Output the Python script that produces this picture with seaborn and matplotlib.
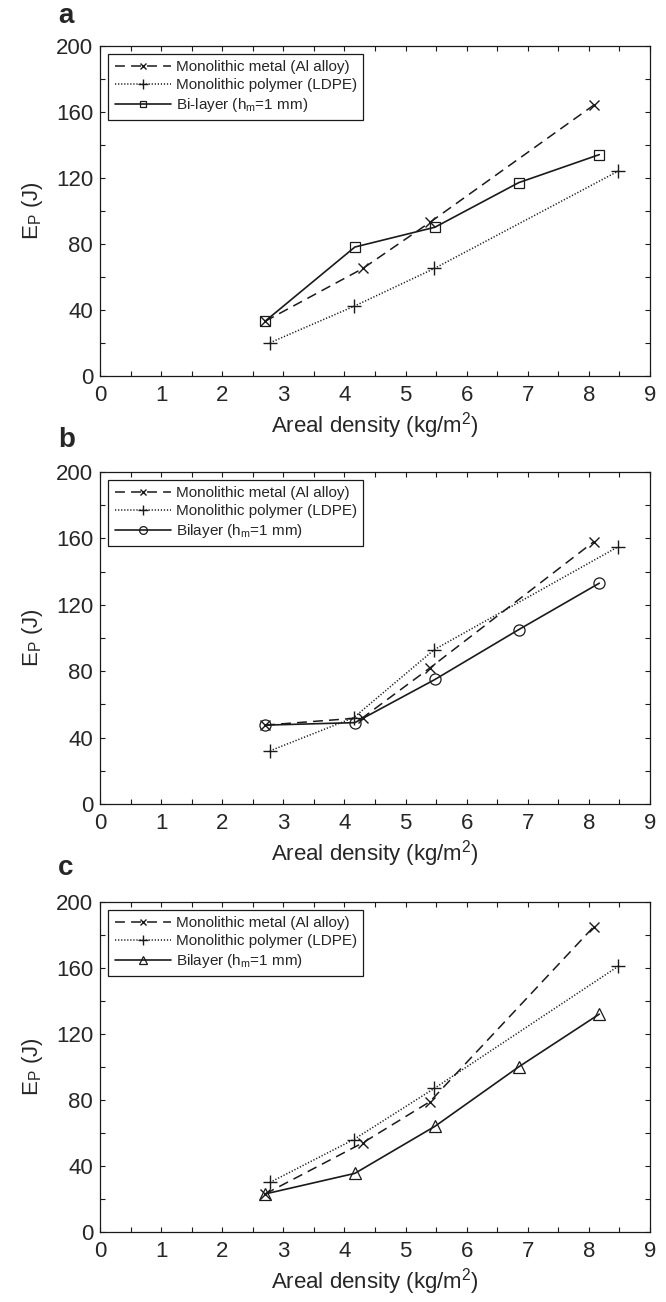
import numpy as np
import pandas as pd
import matplotlib
matplotlib.use('Agg')
import matplotlib.pyplot as plt
import seaborn as sns
from matplotlib.ticker import MultipleLocator

sns.set_theme(style='ticks')
plt.rcParams['font.family'] = ['Liberation Sans', 'DejaVu Sans']
plt.rcParams['mathtext.fontset'] = 'custom'
plt.rcParams['mathtext.rm'] = 'Liberation Sans'

# areal density (kg/m^2)
metal_x = [2.70, 4.30, 5.40, 8.08]
poly_x = [2.78, 4.15, 5.47, 8.48]
bi_x = [2.70, 4.17, 5.48, 6.85, 8.17]

# perforation energy E_P (J), panels a, b, c
metal_y_a = [33, 65, 93, 164]
poly_y_a = [20, 42, 65, 124]
bi_y_a = [33, 78, 90, 117, 134]

metal_y_b = [47.5, 52, 82, 158]
poly_y_b = [32, 52, 93, 155]
bi_y_b = [47.5, 49, 75, 105, 133]

metal_y_c = [23, 54, 79, 185]
poly_y_c = [30, 56, 87, 161]
bi_y_c = [23, 35.5, 64, 100, 132]

panels = ['a', 'b', 'c']
bi_labels = ['Bi-layer (h$_\\mathrm{m}$=1 mm)',
             'Bilayer (h$_\\mathrm{m}$=1 mm)',
             'Bilayer (h$_\\mathrm{m}$=1 mm)']
bi_markers = ['s', 'o', '^']
bi_ms = [6.5, 8, 8.5]
metal_all = [metal_y_a, metal_y_b, metal_y_c]
poly_all = [poly_y_a, poly_y_b, poly_y_c]
bi_all = [bi_y_a, bi_y_b, bi_y_c]

fig = plt.figure(figsize=(6.66, 13.02), dpi=100)
# axes boxes in figure fractions (left, bottom, width, height)
boxes = [(0.1502, 0.7114, 0.8258, 0.2535),
         (0.1502, 0.3825, 0.8258, 0.2550),
         (0.1502, 0.0538, 0.8258, 0.2535)]
# baseline of the panel letters, in pixels from the top
letter_y = [23, 447, 875]

for i in range(3):
    ax = fig.add_axes(boxes[i])
    sns.lineplot(x=metal_x, y=metal_all[i], ax=ax, sort=False, color='k',
                 linestyle=(0, (6.5, 4)), linewidth=1.1, marker='x',
                 markersize=7, markeredgewidth=1.0, markeredgecolor='k',
                 label='Monolithic metal (Al alloy)')
    sns.lineplot(x=poly_x, y=poly_all[i], ax=ax, sort=False, color='k',
                 linestyle=(0, (0.8, 1.2)), linewidth=1.1, marker='+',
                 markersize=10, markeredgewidth=1.0, markeredgecolor='k',
                 label='Monolithic polymer (LDPE)')
    sns.lineplot(x=bi_x, y=bi_all[i], ax=ax, sort=False, color='k',
                 linestyle='-', linewidth=1.2, marker=bi_markers[i],
                 markersize=bi_ms[i], markerfacecolor='none',
                 markeredgecolor='k', markeredgewidth=0.9,
                 label=bi_labels[i])

    ax.set_xlim(0, 9)
    ax.set_ylim(0, 200)
    ax.xaxis.set_major_locator(MultipleLocator(1))
    ax.xaxis.set_minor_locator(MultipleLocator(0.5))
    ax.yaxis.set_major_locator(MultipleLocator(40))
    ax.yaxis.set_minor_locator(MultipleLocator(20))
    ax.tick_params(which='both', direction='in', top=True, right=True,
                   length=3.6, width=0.8, color='k')
    ax.tick_params(which='major', labelsize=16)
    ax.tick_params(axis='x', which='major', pad=6.5)
    ax.tick_params(axis='y', which='major', pad=5)
    for s in ax.spines.values():
        s.set_linewidth(0.9)
        s.set_color('k')
    ax.set_xlabel('Areal density (kg/m$^2$)', fontsize=16, labelpad=3)
    ax.set_ylabel('E$_\\mathrm{P}$ (J)', fontsize=16, labelpad=8)

    leg = ax.legend(loc='upper left', fontsize=11, handlelength=3.7,
                    handletextpad=0.3, labelspacing=0.25, borderpad=0.4,
                    borderaxespad=0.55, fancybox=False, framealpha=1,
                    markerscale=0.7)
    leg.get_frame().set_edgecolor('k')
    leg.get_frame().set_linewidth(0.9)

    fig.text(58 / 666, 1 - letter_y[i] / 1302, panels[i], fontsize=20,
             fontweight='bold', va='baseline', ha='left')

fig.savefig('out.png', dpi=100)
